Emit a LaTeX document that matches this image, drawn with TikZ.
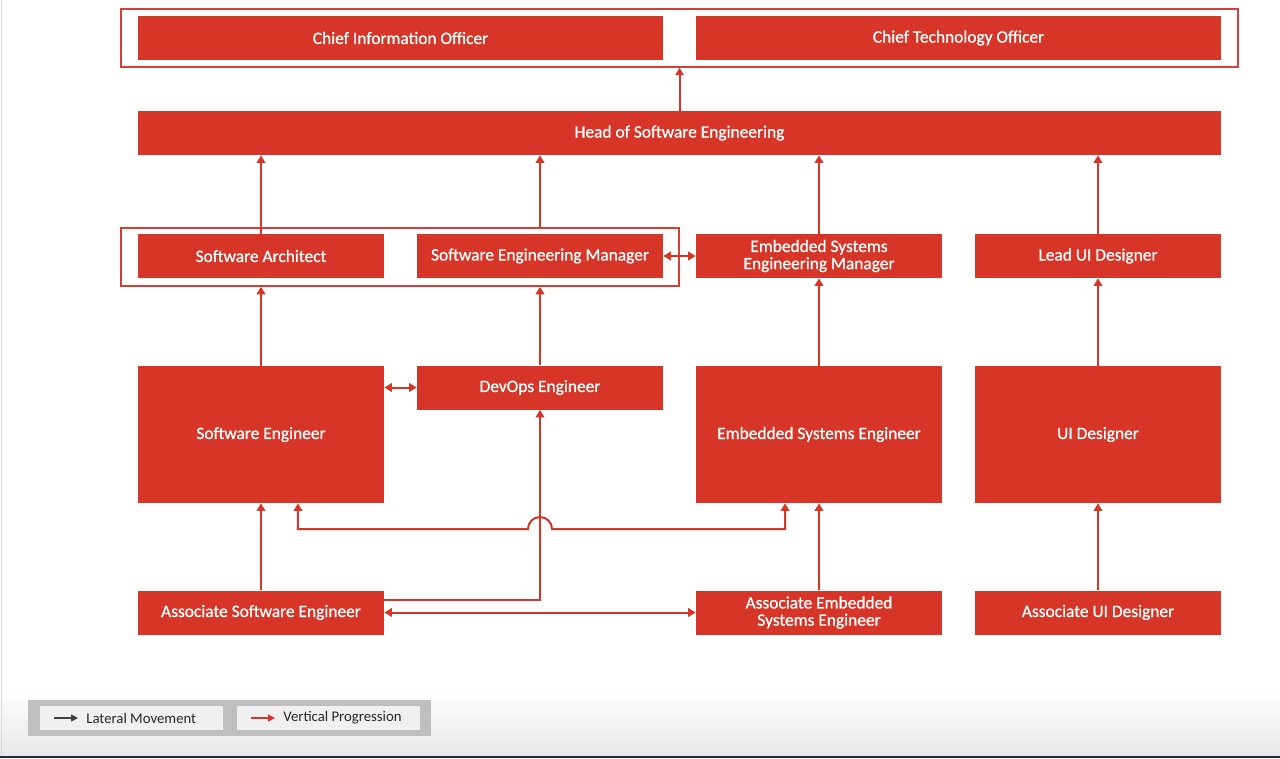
\documentclass[tikz,border=0pt]{standalone}
\usepackage{fontspec}
\setmainfont{Carlito}
\newfontfamily\boxfont{Carlito}[FakeBold=0.8]
\usetikzlibrary{arrows.meta,calc}
\definecolor{boxred}{RGB}{214,53,39}
\definecolor{framered}{RGB}{215,62,52}
\definecolor{leggray}{RGB}{191,191,191}
\definecolor{legin}{RGB}{240,240,240}
\definecolor{darkarr}{RGB}{64,64,64}
\definecolor{bottomline}{RGB}{40,40,60}
\tikzset{
  box/.style={fill=boxred, text=white, inner sep=0pt, align=center,
    font=\boxfont\fontsize{9.9pt}{9.8pt}\selectfont, minimum width=4.92cm, minimum height=0.88cm},
  tallbox/.style={box, minimum height=2.74cm},
  frame/.style={draw=framered, line width=0.03cm, inner sep=0pt},
  arr/.style={draw=boxred, line width=0.04cm, -{Triangle[length=0.15cm,width=0.17cm]}},
  darr/.style={arr, {Triangle[length=0.15cm,width=0.17cm]}-{Triangle[length=0.15cm,width=0.17cm]}},
  legbox/.style={fill=legin, inner sep=0pt, minimum width=3.66cm, minimum height=0.48cm},
  legtext/.style={font=\fontsize{8.4pt}{9pt}\selectfont, text=black!85, inner sep=0pt, anchor=west},
}
\begin{document}
\begin{tikzpicture}[x=0.02cm,y=-0.02cm]
\useasboundingbox (0,0) rectangle (1280,758);
\fill[white] (0,0) rectangle (1280,758);
\shade[top color=white, bottom color=black!9] (0,690) rectangle (1280,755);
\fill[bottomline] (0,755.5) rectangle (1280,758);
\draw[black!15, line width=0.02cm] (1,0) -- (1,755);

% frames
\node[frame, minimum width=22.34cm, minimum height=1.16cm] (topframe) at (679.5,38) {};
\node[frame, minimum width=11.16cm, minimum height=1.16cm] (midframe) at (400,257) {};

% boxes
\node[box, minimum width=10.5cm] (cio) at (400.5,38) {Chief Information Officer};
\node[box, minimum width=10.5cm] (cto) at (958.5,38) {Chief Technology Officer};
\node[box, minimum width=21.66cm] (head) at (679.5,133) {Head of Software Engineering};

\node[box] (sa) at (261,256) {Software Architect};
\node[box] (sem) at (540,256) {Software Engineering Manager};
\node[box] (esem) at (819,256) {Embedded Systems\\Engineering Manager};
\node[box] (lui) at (1098,256) {Lead UI Designer};

\node[tallbox] (se) at (261,434.5) {Software Engineer};
\node[box] (devops) at (540,387.5) {DevOps Engineer};
\node[tallbox] (ese) at (819,434.5) {Embedded Systems Engineer};
\node[tallbox] (ui) at (1098,434.5) {UI Designer};

\node[box] (ase) at (261,612.5) {Associate Software Engineer};
\node[box] (aese) at (819,612.5) {Associate Embedded\\Systems Engineer};
\node[box] (aui) at (1098,612.5) {Associate UI Designer};

% vertical progression
\draw[arr] (head.north) -- (topframe.south);
\draw[arr] (sa.north) -- (sa.north |- head.south);
\draw[arr] (sem.north |- midframe.north) -- (sem.north |- head.south);
\draw[arr] (esem.north) -- (esem.north |- head.south);
\draw[arr] (lui.north) -- (lui.north |- head.south);
\draw[arr] (se.north) -- (se.north |- midframe.south);
\draw[arr] (devops.north) -- (devops.north |- midframe.south);
\draw[arr] (ese.north) -- (esem.south);
\draw[arr] (ui.north) -- (lui.south);
\draw[arr] (ase.north) -- (se.south);
\draw[arr] (aese.north) -- (ese.south);
\draw[arr] (aui.north) -- (ui.south);
\draw[arr] ([yshift=0.25cm]ase.east) -| (devops.south);

% lateral
\draw[darr] (sem.east) -- (esem.west);
\draw[darr] (se.east |- devops.west) -- (devops.west);
\draw[darr] (ase.east) -- (aese.west);
\coordinate (hopL) at (528,529);
\coordinate (hopR) at (552,529);
\draw[darr] ([xshift=0.74cm]se.south) |- (hopL) arc[start angle=180, end angle=0, radius=0.24cm] -| ([xshift=-0.68cm]ese.south);

% legend
\node[fill=leggray, inner sep=0pt, minimum width=8.06cm, minimum height=0.72cm] (legend) at (229.5,718) {};
\node[legbox] (lb1) at (131.5,718) {};
\node[legbox] (lb2) at (328.5,718) {};
\coordinate (la1) at (54,718);
\coordinate (la2) at (78,718);
\coordinate (lr1) at (251,718);
\coordinate (lr2) at (275,718);
\draw[draw=darkarr, line width=0.03cm, -{Triangle[length=0.14cm,width=0.14cm]}] (la1) -- (la2);
\draw[draw=boxred, line width=0.03cm, -{Triangle[length=0.14cm,width=0.14cm]}] (lr1) -- (lr2);
\node[legtext] (lt1) at (86,718) {Lateral Movement};
\node[legtext] (lt2) at (283,718) {Vertical Progression};
\end{tikzpicture}
\end{document}
